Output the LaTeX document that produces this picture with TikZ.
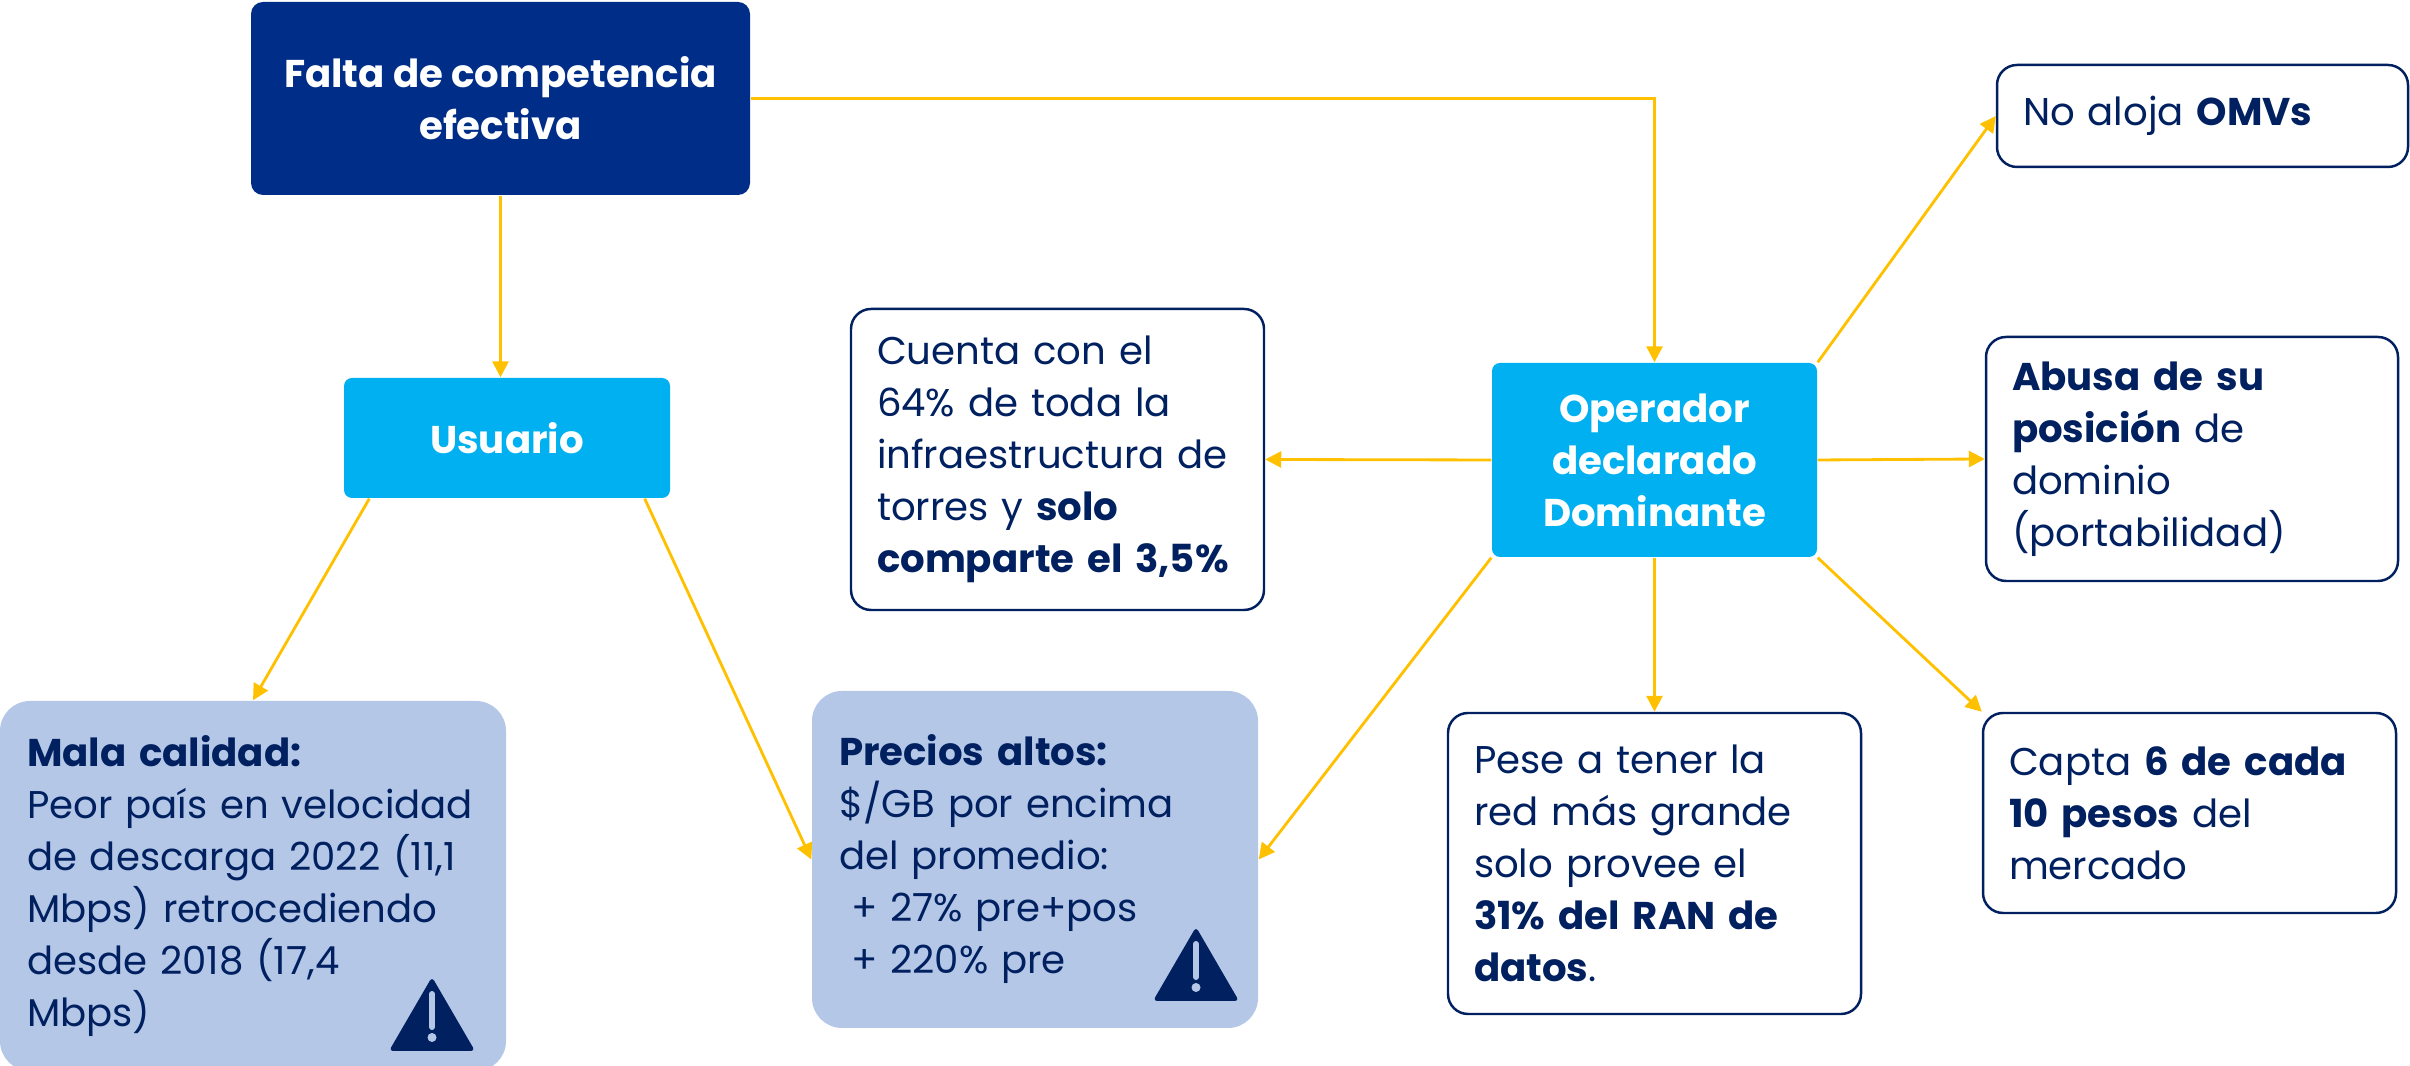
\documentclass[tikz,border=0pt]{standalone}
\usepackage{fontspec}
\setmainfont{Poppins}
\usetikzlibrary{arrows.meta}

\definecolor{navy}{HTML}{002D87}
\definecolor{ink}{HTML}{002060}
\definecolor{sky}{HTML}{00B0F0}
\definecolor{pale}{HTML}{B4C7E7}
\definecolor{gold}{HTML}{FFC000}

% warning sign: apex x, apex y
\newcommand{\warnsign}[2]{%
    \fill[ink, rounded corners=0.04cm] (#1,#2) -- ++(0.43,-0.74) -- ++(-0.86,0) -- cycle;
    \draw[pale, line width=0.06cm, line cap=round] (#1,#2-0.17) -- (#1,#2-0.50);
    \fill[pale] (#1,#2-0.605) circle (0.045);
}

\begin{document}
\begin{tikzpicture}
    \tikzstyle{every node}=[font=\fontsize{11}{14.8}\selectfont, text=ink]
    \tikzstyle{headbox}=[fill=navy, rounded corners=0.12cm, text=white,
        font=\fontsize{11}{14.8}\selectfont\bfseries, align=center, inner sep=0pt]
    \tikzstyle{rolebox}=[fill=sky, rounded corners=0.08cm, text=white,
        font=\fontsize{11}{14.8}\selectfont\bfseries, align=center, inner sep=0pt]
    \tikzstyle{factbox}=[draw=ink, line width=0.7pt, fill=white, rounded corners=0.2cm,
        align=left, inner xsep=0.26cm, inner ysep=0pt]
    \tikzstyle{alertbox}=[fill=pale, rounded corners=0.3cm,
        align=left, inner xsep=0.27cm, inner ysep=0pt]
    \tikzstyle{link}=[draw=gold, line width=0.8pt, -{Triangle[length=0.16cm,width=0.16cm]}]

    \useasboundingbox (0,0) rectangle (24.1,10.66);

    \node[headbox, minimum width=4.99cm, minimum height=1.93cm] (falta) at (5.005,9.675)
    {Falta de competencia\\efectiva};

    \node[rolebox, minimum width=3.26cm, minimum height=1.2cm] (usuario) at (5.07,6.28)
    {Usuario};

    \node[rolebox, minimum width=3.25cm, minimum height=1.94cm] (operador) at (16.545,6.06)
    {Operador\\declarado\\Dominante};

    \node[factbox, text width=3.61cm, minimum height=3.01cm] (cuenta) at (10.575,6.065)
    {Cuenta con el\\64\% de toda la\\infraestructura de\\torres y \textbf{solo}\\
    \textbf{comparte el 3,5\%}};

    \node[factbox, text width=3.59cm, minimum height=1.02cm] (omv) at (22.025,9.5)
    {No aloja \textbf{OMVs}};

    \node[factbox, text width=3.60cm, minimum height=2.44cm] (abusa) at (21.92,6.07)
    {\textbf{Abusa de su}\\\textbf{posición} de\\dominio\\(portabilidad)};

    \node[factbox, text width=3.61cm, minimum height=3.01cm] (pese) at (16.545,2.025)
    {Pese a tener la\\red más grande\\solo provee el\\\textbf{31\% del RAN de}\\
    \textbf{datos}.};

    \node[factbox, text width=3.61cm, minimum height=2.0cm] (capta) at (21.895,2.53)
    {Capta \textbf{6 de cada}\\\textbf{10 pesos} del\\mercado};

    \node[alertbox, text width=4.52cm, minimum height=3.70cm] (mala) at (2.53,1.80)
    {\textbf{Mala calidad:}\\Peor país en velocidad\\de descarga 2022 (11,1\\
    Mbps) retrocediendo\\desde 2018 (17,4\\Mbps)};

    \node[alertbox, text width=3.92cm, minimum height=3.37cm] (precios) at (10.35,2.065)
    {\textbf{Precios altos:}\\\$/GB por encima\\del promedio:\\
    \hspace{0.12cm}+ 27\% pre+pos\\\hspace{0.12cm}+ 220\% pre};

    \warnsign{4.32}{0.89}
    \warnsign{11.96}{1.39}

    \draw[link] (falta.south) -- (falta.south |- usuario.north);
    \draw[link] (falta.east) -| (operador.north);
    \draw[link] ([xshift=0.26cm]usuario.south west) -- (mala.north);
    \draw[link] ([xshift=-0.26cm]usuario.south east) -- (precios.west);
    \draw[link] (operador.west) -- (cuenta.east);
    \draw[link] (operador.east) -- (abusa.west);
    \draw[link] (operador.north east) -- (omv.west);
    \draw[link] (operador.south west) -- (precios.east);
    \draw[link] (operador.south) -- (pese.north);
    \draw[link] (operador.south east) -- (capta.north west);

\end{tikzpicture}
\end{document}
